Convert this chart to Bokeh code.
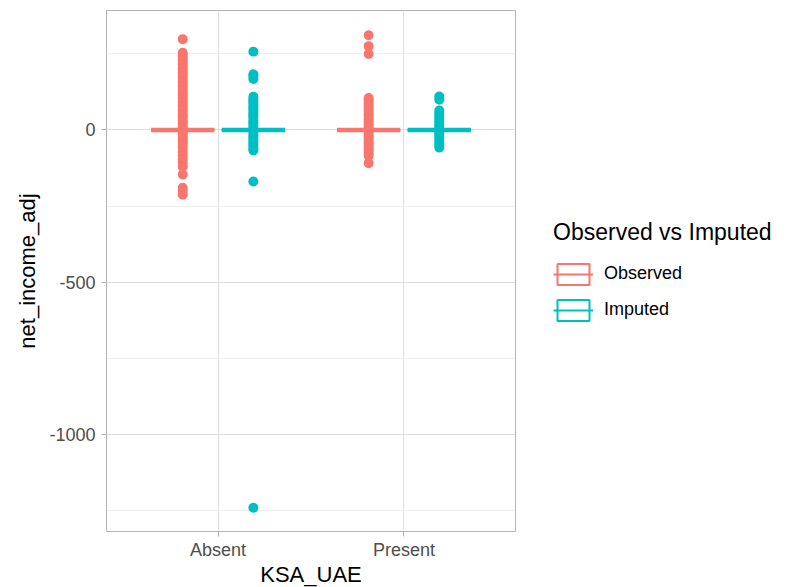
from bokeh.plotting import figure
from bokeh.models import Range1d, FixedTicker, Legend, LegendItem
from bokeh.embed import file_html
from bokeh.resources import INLINE

# ---- data ----
categories = ["Absent", "Present"]
groups = ["Observed", "Imputed"]
colors = ["#F8766D", "#00BFC4"]

# box statistics per group (one value per category)
obs_q1 = [0, 0]
obs_med = [0, 0]
obs_q3 = [0, 0]
obs_low = [0, 0]
obs_up = [0, 0]
imp_q1 = [0, 0]
imp_med = [0, 0]
imp_q3 = [0, 0]
imp_low = [0, 0]
imp_up = [0, 0]

# outliers
obs_absent_out = [298, 253, 247, 241, 232, 226, 218, 212, 203, 198, 189, 184, 175, 169,
                  160, 155, 146, 141, 133, 125, 118, 113, 104, 97, 91, 82, 77, 68, 63,
                  54, 47, 42, 33, 26, 21, 12, 6, -5, -11, -18, -27, -34, -39, -47, -58,
                  -72, -83, -96, -107, -121, -146, -190, -199, -213]
imp_absent_out = [257, 183, 176, 167, 109, 101, 93, 86, 78, 71, 63, 55, 47, 41, 32, 24,
                  17, 9, -7, -16, -23, -30, -38, -45, -53, -60, -67, -169, -1240]
obs_present_out = [311, 275, 249, 105, 97, 88, 80, 71, 62, 54, 47, 38, 31, 23, 14, 8,
                   -7, -15, -22, -29, -38, -45, -53, -62, -69, -78, -85, -109]
imp_present_out = [110, 99, 64, 55, 47, 38, 30, 21, 13, 6, -8, -16, -25, -33, -41, -49,
                   -58]

y_ticks = [-1000, -500, 0]
y_tick_labels = ["-1000", "-500", "0"]
y_minor = [-1250, -750, -250, 250]

# ---- figure ----
p = figure(frame_width=409, frame_height=521, output_backend="svg",
           toolbar_location=None,
           x_range=Range1d(0.4, 2.6), y_range=Range1d(-1318, 392),
           min_border_left=106, min_border_right=4, min_border_top=10,
           min_border_bottom=4)

xpos = [1, 2]
offset = {"Observed": -0.19, "Imputed": 0.19}
bw = 0.34
stats = {
    "Observed": (obs_q1, obs_med, obs_q3, obs_low, obs_up, [obs_absent_out, obs_present_out]),
    "Imputed": (imp_q1, imp_med, imp_q3, imp_low, imp_up, [imp_absent_out, imp_present_out]),
}

items = []
for g, col in zip(groups, colors):
    q1, med, q3, low, up, outs = stats[g]
    xs = [x + offset[g] for x in xpos]
    p.segment(x0=xs, x1=xs, y0=low, y1=q1, line_color=col, line_width=2)
    p.segment(x0=xs, x1=xs, y0=q3, y1=up, line_color=col, line_width=2)
    box = p.vbar(x=xs, width=bw, bottom=q1, top=q3, fill_color="white",
                 line_color=col, line_width=2)
    mx0 = [x - bw / 2 for x in xs]
    mx1 = [x + bw / 2 for x in xs]
    # thin median (used for the legend key), covered by the thick one
    key_med = p.segment(x0=mx0, x1=mx1, y0=med, y1=med, line_color=col, line_width=2)
    p.segment(x0=mx0, x1=mx1, y0=med, y1=med, line_color=col, line_width=4.5)
    for x, o in zip(xs, outs):
        p.scatter(x=[x] * len(o), y=o, size=10, fill_color=col, line_color=col,
                  line_width=0)
    items.append(LegendItem(label=g, renderers=[box, key_med]))

# axes
p.xaxis.ticker = FixedTicker(ticks=xpos)
p.xaxis.major_label_overrides = {1: categories[0], 2: categories[1]}
p.xgrid.ticker = FixedTicker(ticks=xpos)
p.yaxis.ticker = FixedTicker(ticks=y_ticks, minor_ticks=y_minor)
p.yaxis.major_label_overrides = dict(zip(y_ticks, y_tick_labels))
p.ygrid.ticker = FixedTicker(ticks=y_ticks, minor_ticks=y_minor)

p.xaxis.axis_label = "KSA_UAE"
p.yaxis.axis_label = "net_income_adj"
for ax in (p.xaxis, p.yaxis):
    ax.axis_line_color = None
    ax.major_tick_line_color = "#B3B3B3"
    ax.major_tick_in = 0
    ax.major_tick_out = 5
    ax.minor_tick_line_color = None
    ax.major_label_text_font = "Liberation Sans"
    ax.major_label_text_font_size = "18px"
    ax.major_label_text_color = "#4D4D4D"
    ax.axis_label_text_font = "Liberation Sans"
    ax.axis_label_text_font_size = "22px"
    ax.axis_label_text_font_style = "normal"
    ax.axis_label_text_color = "black"
p.xaxis.major_label_standoff = 3
p.xaxis.axis_label_standoff = -1
p.yaxis.major_label_standoff = 6
p.yaxis.axis_label_standoff = 6

p.xgrid.grid_line_color = "#DEDEDE"
p.ygrid.grid_line_color = "#DEDEDE"
p.ygrid.minor_grid_line_color = "#EFEFEF"
p.outline_line_color = "#B3B3B3"
p.outline_line_width = 1
p.background_fill_color = "white"
p.border_fill_color = "white"

legend = Legend(items=items, title="Observed vs Imputed", location="center_left",
                orientation="vertical")
legend.title_text_font = "Liberation Sans"
legend.title_text_font_size = "23px"
legend.title_text_font_style = "normal"
legend.title_text_color = "black"
legend.title_standoff = 15
legend.label_text_font = "Liberation Sans"
legend.label_text_font_size = "18px"
legend.label_text_color = "black"
legend.glyph_width = 40
legend.glyph_height = 26
legend.label_standoff = 11
legend.spacing = 10
legend.padding = 0
legend.margin = 38
legend.border_line_color = None
legend.background_fill_alpha = 0
p.add_layout(legend, "right")

open("out.html", "w").write(file_html(p, INLINE))
